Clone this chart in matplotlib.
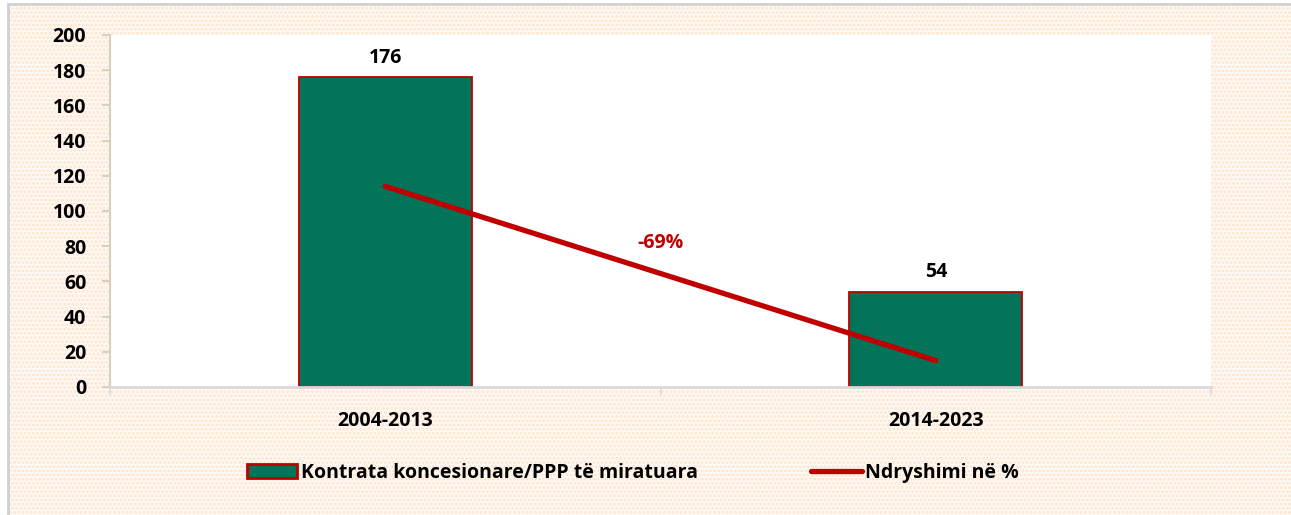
import matplotlib.pyplot as plt
import matplotlib.patches as mpatches
import numpy as np

plt.rcParams["font.family"] = ["Open Sans", "DejaVu Sans"]
plt.rcParams["font.weight"] = "bold"
plt.rcParams["hatch.linewidth"] = 1.5

COL_BAR = '#03735a'
COL_RED = '#c00000'
FS = 14

categories = ['2004-2013', '2014-2023']
contracts = [176, 54]
change_line = [114, 15]
change_label = '-69%'
change_label_y = 82

fig = plt.figure(figsize=(12.91, 5.15), dpi=100)
fig.patch.set_facecolor('white')
bg = mpatches.Rectangle((8 / 1291, 0), 1.0, 1 - 4 / 515, transform=fig.transFigure,
                        facecolor='#fffaf5', edgecolor='#fde3cc', hatch='....', linewidth=0, zorder=-10)
fig.patches.append(bg)
frame = mpatches.Rectangle((8 / 1291, -0.01), 1.0, 1 - 4 / 515 + 0.01, transform=fig.transFigure,
                           facecolor='none', edgecolor='#d0d0d0', linewidth=2, zorder=-9)
fig.patches.append(frame)

ax = fig.add_axes([110 / 1291, 1 - 387 / 515, 1101 / 1291, 352 / 515])
ax.set_facecolor('white')
xs = np.arange(len(categories))
bars = ax.bar(xs, contracts, width=0.314, color=COL_BAR, edgecolor=COL_RED, linewidth=1.3, zorder=2)
line, = ax.plot(xs, change_line, color=COL_RED, linewidth=3.8, solid_capstyle='round', zorder=3)

for x, v in zip(xs, contracts):
    ax.annotate(str(v), (x, v), xytext=(0, 7), textcoords='offset points',
                ha='center', va='bottom', fontsize=FS, fontweight='bold')
ax.text(0.5, change_label_y, change_label, color=COL_RED, ha='center', va='center',
        fontsize=FS, fontweight='bold')

ax.set_xlim(-0.5, 1.5)
ax.set_ylim(0, 200)
ax.set_yticks(np.arange(0, 201, 20))
ax.set_xticks(xs)
ax.set_xticklabels(categories)
ax.set_xticks([-0.5, 0.5, 1.5], minor=True)
ax.tick_params(axis='x', which='major', length=0, pad=17, labelsize=FS)
ax.tick_params(axis='x', which='minor', length=6, color='#d9d9d9', width=1.2)
ax.tick_params(axis='y', length=6, color='#d8cfbf', width=1.5, labelsize=FS, pad=11)
for lbl in ax.get_xticklabels() + ax.get_yticklabels():
    lbl.set_fontweight('bold')
for s in ['top', 'right']:
    ax.spines[s].set_visible(False)
ax.spines['left'].set_color('#d8cfbf')
ax.spines['left'].set_linewidth(1.5)
ax.spines['bottom'].set_color('#d9d9d9')
ax.spines['bottom'].set_linewidth(2)

bar_handle = mpatches.Patch(facecolor=COL_BAR, edgecolor=COL_RED, linewidth=2)
fig.legend([bar_handle, line], ['Kontrata koncesionare/PPP të miratuara', 'Ndryshimi në %'],
           loc='center', bbox_to_anchor=(633 / 1291, 1 - 473 / 515), ncol=2, frameon=False,
           handlelength=2.6, handleheight=0.75, handletextpad=0.2, columnspacing=5.8,
           prop={'weight': 'bold', 'size': FS})

fig.savefig('out.png', dpi=100)
